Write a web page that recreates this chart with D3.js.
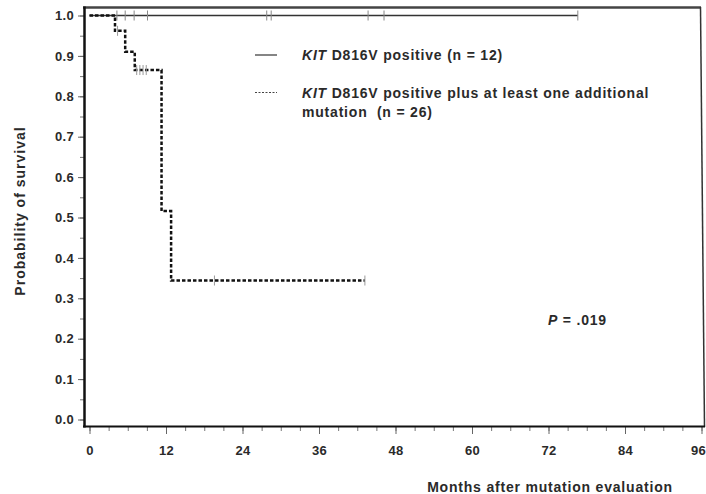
<!DOCTYPE html>
<html>
<head>
<meta charset="utf-8">
<script src="https://cdn.jsdelivr.net/npm/d3@7"></script>
<style>
  body { margin: 0; background: #fff; }
  svg { display: block; font-family: "Liberation Sans", Arial, sans-serif; }
  text { fill: #2a2a2a; font-weight: bold; }
</style>
</head>
<body>
<svg id="chart" width="706" height="494"></svg>
<script>
// months after mutation evaluation
const xTicks = [0, 12, 24, 36, 48, 60, 72, 84, 96];
const yTicks = [0, 0.1, 0.2, 0.3, 0.4, 0.5, 0.6, 0.7, 0.8, 0.9, 1.0];

// KIT D816V positive (n = 12): no events
const soloTimes = [0, 76.6];
const soloSurv = [1.0, 1.0];
const soloCensor = [4.3, 5.6, 7.0, 9.1, 27.8, 28.5, 43.7, 46.2, 76.6];

// KIT D816V positive plus additional mutation (n = 26)
const multiTimes = [0, 4.0, 5.6, 7.1, 11.3, 12.8, 43.2];
const multiSurv = [1.0, 0.962, 0.91, 0.865, 0.516, 0.344, 0.344];
const multiCensorT = [4.4, 7.4, 7.9, 8.4, 8.9, 19.6, 43.2];
const multiCensorS = [0.962, 0.865, 0.865, 0.865, 0.865, 0.344, 0.344];

const svg = d3.select('#chart');

const x = d3.scaleLinear().domain([0, 96]).range([89.5, 701.5]);
const y = d3.scaleLinear().domain([0, 1]).range([419.5, 15.5]);

// minor ticks
svg.append('g')
  .attr('transform', 'translate(0,427)')
  .call(d3.axisBottom(x).tickValues(d3.range(0, 97, 3)).tickSize(4).tickFormat(''))
  .call(g => g.select('.domain').remove())
  .selectAll('line').attr('stroke', '#777');

svg.append('g')
  .attr('transform', 'translate(84,0)')
  .call(d3.axisLeft(y).tickValues(d3.range(0, 1.01, 0.05)).tickSize(4).tickFormat(''))
  .call(g => g.select('.domain').remove())
  .selectAll('line').attr('stroke', '#777');

// major ticks + labels
const xAxis = svg.append('g')
  .attr('transform', 'translate(0,427)')
  .call(d3.axisBottom(x).tickValues(xTicks).tickSize(7).tickFormat(d3.format('d')));
xAxis.select('.domain').remove();
xAxis.selectAll('line').attr('stroke', '#666');
xAxis.selectAll('text').attr('y', 19).attr('font-size', 13).attr('font-family', null)
  .attr('letter-spacing', 0.3);
// last label sits at the very edge; keep it inside the page
xAxis.selectAll('text').filter(d => d === 96).attr('text-anchor', 'end').attr('x', 4);

const yAxis = svg.append('g')
  .attr('transform', 'translate(84,0)')
  .call(d3.axisLeft(y).tickValues(yTicks).tickSize(6).tickFormat(d3.format('.1f')));
yAxis.select('.domain').remove();
yAxis.selectAll('line').attr('stroke', '#666');
yAxis.selectAll('text').attr('x', -10).attr('font-size', 13).attr('font-family', null)
  .attr('letter-spacing', 0.3);

// frame (the scanned right edge leans a little)
svg.append('line').attr('x1', 83).attr('x2', 701).attr('y1', 7.5).attr('y2', 7.5)
  .attr('stroke', '#444').attr('stroke-width', 2.5);
svg.append('line').attr('x1', 700.5).attr('x2', 704.5).attr('y1', 7).attr('y2', 427)
  .attr('stroke', '#333').attr('stroke-width', 1.5);
svg.append('line').attr('x1', 84.5).attr('x2', 84.5).attr('y1', 6.5).attr('y2', 427.5)
  .attr('stroke', '#111').attr('stroke-width', 2.5);
svg.append('line').attr('x1', 83).attr('x2', 705).attr('y1', 426.5).attr('y2', 426.5)
  .attr('stroke', '#111').attr('stroke-width', 2);

const line = d3.line().curve(d3.curveStepAfter).x(d => x(d[0])).y(d => y(d[1]));

// solid curve
svg.append('path')
  .datum(d3.zip(soloTimes, soloSurv))
  .attr('d', line)
  .attr('fill', 'none').attr('stroke', '#333').attr('stroke-width', 1.5);

svg.append('g').selectAll('line').data(soloCensor).join('line')
  .attr('x1', d => x(d)).attr('x2', d => x(d))
  .attr('y1', y(1) - 5).attr('y2', y(1) + 5)
  .attr('stroke', '#888').attr('stroke-width', 1);

// dashed curve
svg.append('path')
  .datum(d3.zip(multiTimes, multiSurv))
  .attr('d', line)
  .attr('fill', 'none').attr('stroke', '#111').attr('stroke-width', 2.5)
  .attr('stroke-dasharray', '3.5,2');

svg.append('g').selectAll('line').data(d3.zip(multiCensorT, multiCensorS)).join('line')
  .attr('x1', d => x(d[0])).attr('x2', d => x(d[0]))
  .attr('y1', d => y(d[1]) - 5).attr('y2', d => y(d[1]) + 5)
  .attr('stroke', '#999').attr('stroke-width', 1);

// legend
svg.append('line').attr('x1', 255).attr('x2', 277).attr('y1', 55).attr('y2', 55)
  .attr('stroke', '#333').attr('stroke-width', 1.2);
svg.append('line').attr('x1', 255).attr('x2', 277).attr('y1', 92.5).attr('y2', 92.5)
  .attr('stroke', '#444').attr('stroke-width', 1).attr('stroke-dasharray', '2,1.5');

const leg1 = svg.append('text').attr('x', 302).attr('y', 60).attr('font-size', 14)
  .attr('letter-spacing', 0.8);
leg1.append('tspan').attr('font-style', 'italic').text('KIT');
leg1.append('tspan').text(' D816V positive (n = 12)');

const leg2 = svg.append('text').attr('x', 302).attr('y', 97.5).attr('font-size', 14)
  .attr('letter-spacing', 0.8);
leg2.append('tspan').attr('font-style', 'italic').text('KIT');
leg2.append('tspan').text(' D816V positive plus at least one additional');
svg.append('text').attr('x', 302).attr('y', 116.5).attr('font-size', 14)
  .attr('letter-spacing', 0.8)
  .attr('xml:space', 'preserve').text('mutation  (n = 26)');

// p value
const p = svg.append('text').attr('x', 548).attr('y', 325).attr('font-size', 14)
  .attr('letter-spacing', 0.8);
p.append('tspan').attr('font-style', 'italic').text('P');
p.append('tspan').text(' = .019');

// axis titles
svg.append('text').attr('x', 550).attr('y', 491.5).attr('font-size', 14)
  .attr('letter-spacing', 0.8)
  .attr('text-anchor', 'middle').text('Months after mutation evaluation');

svg.append('text').attr('transform', 'translate(25,211) rotate(-90)')
  .attr('font-size', 14).attr('letter-spacing', 1)
  .attr('text-anchor', 'middle').text('Probability of survival');
</script>
</body>
</html>
